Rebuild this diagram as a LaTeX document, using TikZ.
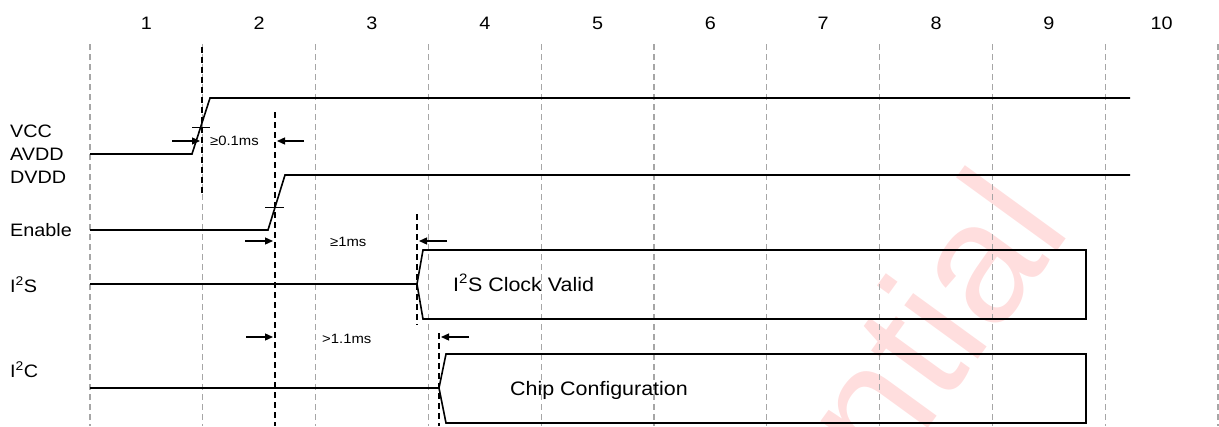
\documentclass[tikz,border=0pt]{standalone}
\usepackage{fontspec}
\setmainfont{Liberation Sans}[FakeStretch=1.1]
\newfontfamily\wmfont{Liberation Sans}
\usetikzlibrary{arrows.meta}

\tikzset{
  grid line/.style={gray!70, line width=1.1pt, dash pattern=on 6pt off 4pt},
  mark line/.style={black, line width=1.6pt, dash pattern=on 6pt off 4pt},
  signal/.style={black, line width=1.6pt, line join=miter},
  tick line/.style={black, line width=0.8pt},
  dim arrow/.style={-{Triangle[length=8pt, width=7pt]}, line width=1.3pt},
  sig label/.style={anchor=base west, inner sep=0pt, font=\fontsize{18}{18}\selectfont},
  num label/.style={anchor=base, inner sep=0pt, font=\fontsize{18}{18}\selectfont},
  time label/.style={anchor=base west, inner sep=0pt, font=\fontsize{13.5}{13.5}\selectfont},
  bus label/.style={anchor=base west, inner sep=0pt, font=\fontsize{19.5}{19.5}\selectfont},
}

\begin{document}
\begin{tikzpicture}[x=1pt, y=-1pt]
    \useasboundingbox (0,0) rectangle (1219,426);
    \clip (0,0) rectangle (1219,426);

    % --- watermark ---
    \node[anchor=base west, inner sep=0pt, rotate=54, text=red!13,
          font=\wmfont\fontsize{172}{172}\selectfont] (wmark) at (539,964) {Confidential};

    % --- grid and step numbers ---
    \foreach \k in {0,...,10} {
        \draw[grid line] ({90+112.8*\k},44) -- ({90+112.8*\k},426);
    }
    \foreach \k in {1,...,10} {
        \node[num label] (step\k) at ({146.4+112.8*(\k-1)},29) {\k};
    }

    % --- signal names ---
    \node[sig label] (vcc)    at (10,137) {VCC};
    \node[sig label] (avdd)   at (10,160) {AVDD};
    \node[sig label] (dvdd)   at (10,183) {DVDD};
    \node[sig label] (enable) at (10,236) {Enable};
    \node[sig label] (i2s)    at (10,292) {I\textsuperscript{2}S};
    \node[sig label] (i2c)    at (10,377) {I\textsuperscript{2}C};

    % --- waveforms ---
    % VCC / AVDD
    \draw[signal] (90,154) -- (192,154) -- (210,98) -- (1130,98);
    % Enable / DVDD
    \draw[signal] (90,230) -- (268,230) -- (285,175) -- (1130,175);
    % I2S
    \draw[signal] (90,284) -- (417,284);
    \draw[signal] (417,284) -- (423,250) -- (1086,250) -- (1086,319) -- (423,319) -- cycle;
    \node[bus label] (i2sbus) at (453,291) {I\textsuperscript{2}S Clock Valid};
    % I2C
    \draw[signal] (90,388) -- (439,388);
    \draw[signal] (439,388) -- (446,354) -- (1086,354) -- (1086,423) -- (446,423) -- cycle;
    \node[bus label] (i2cbus) at (510,395) {Chip Configuration};

    % --- ramp ticks ---
    \draw[tick line] (192,127) -- (210,127);
    \draw[tick line] (265,207) -- (284,207);

    % --- timing markers ---
    \draw[mark line] (202,47) -- (202,193);
    \draw[mark line] (275,112) -- (275,426);
    \draw[mark line] (417,214) -- (417,325);
    \draw[mark line] (439,333) -- (439,426);

    % --- timing arrows ---
    \draw[dim arrow] (172,141) -- (200,141);
    \draw[dim arrow] (304,141) -- (277,141);
    \node[time label] (tvcc) at (210,145) {≥0.1ms};

    \draw[dim arrow] (245,241) -- (273,241);
    \draw[dim arrow] (447,241) -- (419,241);
    \node[time label] (ten) at (330,246) {≥1ms};

    \draw[dim arrow] (246,337) -- (273,337);
    \draw[dim arrow] (469,337) -- (441,337);
    \node[time label] (ti2c) at (322,343) {>1.1ms};
\end{tikzpicture}
\end{document}
